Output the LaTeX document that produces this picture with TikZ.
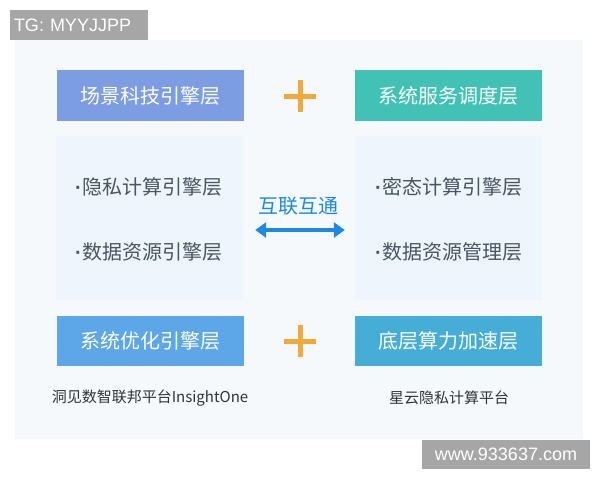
\documentclass[tikz,border=0pt]{standalone}
\usepackage{fontspec}
\setmainfont{Liberation Sans}
\newfontfamily\cjk{Noto Sans CJK SC}
\usetikzlibrary{arrows.meta}
\definecolor{panelbg}{HTML}{F6F9FC}
\definecolor{innerbg}{HTML}{EEF5FC}
\definecolor{sceneblue}{HTML}{7C9DE2}
\definecolor{serviceteal}{HTML}{41C2B4}
\definecolor{optblue}{HTML}{5DA7E8}
\definecolor{accelblue}{HTML}{46ADD6}
\definecolor{plusorange}{HTML}{F2A93B}
\definecolor{linkblue}{HTML}{1E88E5}
\definecolor{itemgray}{HTML}{4A5562}
\definecolor{capgray}{HTML}{333333}
\definecolor{tagfill}{HTML}{A6A6A6}
\newcommand\bul{{\normalfont\bfseries\textperiodcentered}\hspace{1pt}}

\begin{document}
\begin{tikzpicture}[x=1pt,y=-1pt,
  layer/.style={minimum width=187pt, minimum height=51pt, inner sep=0pt, text=white, font=\cjk\fontsize{20}{20}\selectfont},
  group/.style={fill=innerbg, minimum width=187pt, minimum height=164pt, inner sep=0pt},
  item/.style={anchor=west, inner sep=0pt, text=itemgray, font=\cjk\fontsize{20}{20}\selectfont},
  caption/.style={inner sep=0pt, text=capgray, font=\cjk\fontsize{15}{15}\selectfont},
  tag/.style={fill=tagfill, text=white, inner sep=0pt, font=\fontsize{18}{18}\selectfont},
  plus/.style={plusorange, line width=5pt}]
\useasboundingbox (0,0) rectangle (600,480);
\fill[white] (0,0) rectangle (600,480);
\fill[panelbg] (15,40) rectangle (583,439);

% watermarks
\node[tag, minimum width=138pt, minimum height=30pt, text width=130pt, align=left] (tg) at (79,25) {TG: MYYJJPP};
\node[tag, minimum width=168pt, minimum height=29pt] (site) at (506,454.5) {www.933637.com};

% top and bottom layers
\node[layer, fill=sceneblue] (scene) at (150,95.5) {场景科技引擎层};
\node[layer, fill=serviceteal] (service) at (448.5,95.5) {系统服务调度层};
\node[layer, fill=optblue, minimum height=50pt] (opt) at (150,341) {系统优化引擎层};
\node[layer, fill=accelblue, minimum height=50pt] (accel) at (448.5,341) {底层算力加速层};

\foreach \y in {96,341} {
 \draw[plus] (284,\y) --++(32,0);
 \draw[plus] (300,\y-16) --++(0,32);
}

% engine groups
\node[group] (left) at (149.5,218) {};
\node[group] (right) at (448.5,218) {};
\node[item] (privacy) at (75,187) {\bul 隐私计算引擎层};
\node[item] (dataeng) at (75,252) {\bul 数据资源引擎层};
\node[item] (cipher) at (375,187) {\bul 密态计算引擎层};
\node[item] (datamgr) at (375,252) {\bul 数据资源管理层};

% link
\node[inner sep=0pt, text=linkblue, font=\cjk\fontsize{20}{20}\selectfont] (link) at (298,206) {互联互通};
\draw[linkblue, line width=4pt, {Triangle[width=15pt,length=11pt]}-{Triangle[width=15pt,length=11pt]}]
 ([shift={(12,12)}]left.east) -- ([shift={(-10,12)}]right.west);

% platforms
\node[caption] (insight) at (150,398) {洞见数智联邦平台InsightOne};
\node[caption] (nebula) at (449,398) {星云隐私计算平台};
\end{tikzpicture}
\end{document}
